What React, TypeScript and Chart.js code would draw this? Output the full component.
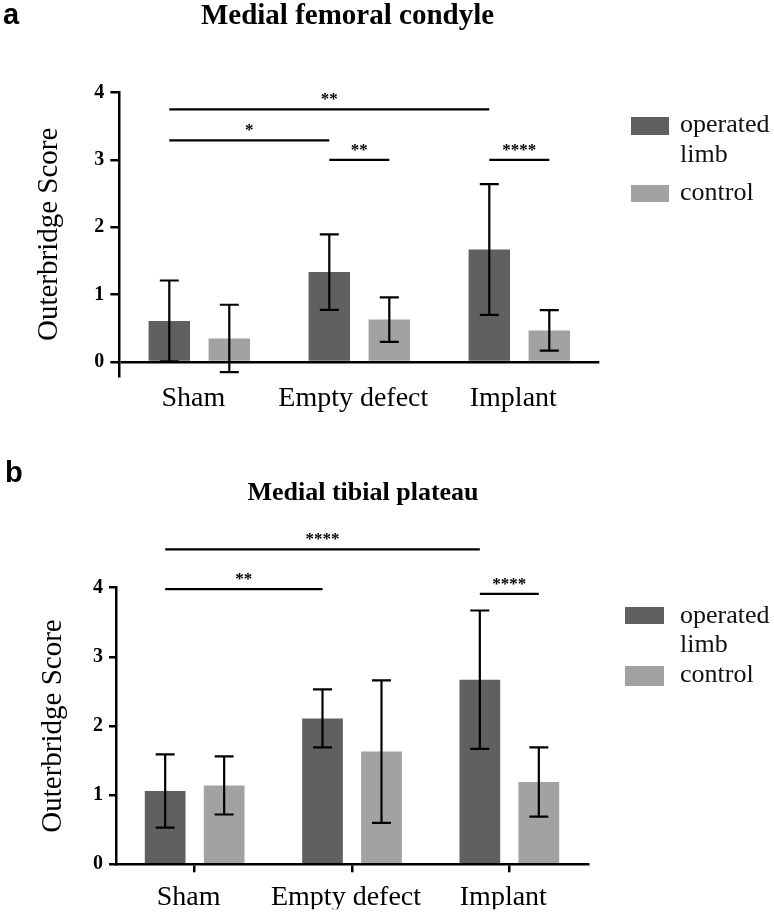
import React, { useEffect, useRef } from "react";
import { Chart, registerables } from "chart.js";
Chart.register(...registerables);

// ---------- data ----------
const categories = ["Sham", "Empty defect", "Implant"];
const seriesNames = ["operated limb", "control"];
const legendLines = [["operated", "limb"], ["control"]];
const yTickValues = [0, 1, 2, 3, 4];
const yAxisTitle = "Outerbridge Score";

const femoralTitle = "Medial femoral condyle";
const femoralOperated = [0.61, 1.335, 1.67];
const femoralControl = [0.35, 0.63, 0.47];
const femoralOperatedSD = [0.6, 0.56, 0.97];
const femoralControlSD = [0.5, 0.33, 0.3];
const femoralSigLabels = ["**", "*", "**", "****"];
const femoralSigLevels = [3.75, 3.29, 3.0, 3.0];
const femoralSigFrom = [[0, 0], [0, 0], [0, 1], [0, 2]];
const femoralSigTo = [[0, 2], [0, 1], [1, 1], [1, 2]];

const tibialTitle = "Medial tibial plateau";
const tibialOperated = [1.06, 2.11, 2.67];
const tibialControl = [1.14, 1.63, 1.19];
const tibialOperatedSD = [0.53, 0.42, 1.0];
const tibialControlSD = [0.42, 1.03, 0.5];
const tibialSigLabels = ["****", "**", "****"];
const tibialSigLevels = [4.555, 3.98, 3.91];
const tibialSigFrom = [[0, 0], [0, 0], [0, 2]];
const tibialSigTo = [[0, 2], [0, 1], [1, 2]];

// ---------- styles ----------
const SERIF = '"Liberation Serif", "Times New Roman", serif';
const SANS = '"Liberation Sans", Arial, sans-serif';
const COLORS = ["#606060", "#a2a2a2"];

type Panel = {
  letter: string;
  title: string;
  means: number[][];
  sds: number[][];
  sigLabels: string[];
  sigLevels: number[];
  sigFrom: number[][];
  sigTo: number[][];
  height: number;
  yMin: number;
  areaLeft: number;
  areaRight: number;
  areaTop: number;
  areaBottom: number;
  xHeight: number;
  xTickLen: number;
  xPad: number;
  yTickLen: number;
  yPad: number;
  yTitleCenter: number;
  titleCx: number;
  titleBase: number;
  titleSize: number;
  letterX: number;
  letterBase: number;
  swatchX: number;
  swatchW: number;
  swatchY: number[];
  swatchH: number[];
  textX: number;
  textBase: number[][];
};

const panelA: Panel = {
  letter: "a",
  title: femoralTitle,
  means: [femoralOperated, femoralControl],
  sds: [femoralOperatedSD, femoralControlSD],
  sigLabels: femoralSigLabels,
  sigLevels: femoralSigLevels,
  sigFrom: femoralSigFrom,
  sigTo: femoralSigTo,
  height: 455,
  yMin: -0.21,
  areaLeft: 119.3,
  areaRight: 599.3,
  areaTop: 92.5,
  areaBottom: 376.2,
  xHeight: 60,
  xTickLen: 0,
  xPad: 6,
  yTickLen: 9,
  yPad: 6,
  yTitleCenter: 49,
  titleCx: 347.5,
  titleBase: 24,
  titleSize: 29,
  letterX: 3,
  letterBase: 24,
  swatchX: 631,
  swatchW: 38,
  swatchY: [117, 185],
  swatchH: [18, 17],
  textX: 680,
  textBase: [[132, 162], [200]],
};

const panelB: Panel = {
  letter: "b",
  title: tibialTitle,
  means: [tibialOperated, tibialControl],
  sds: [tibialOperatedSD, tibialControlSD],
  sigLabels: tibialSigLabels,
  sigLevels: tibialSigLevels,
  sigFrom: tibialSigFrom,
  sigTo: tibialSigTo,
  height: 460,
  yMin: 0,
  areaLeft: 116,
  areaRight: 588,
  areaTop: 132.7,
  areaBottom: 409.3,
  xHeight: 45,
  xTickLen: 8,
  xPad: 9,
  yTickLen: 7,
  yPad: 6,
  yTitleCenter: 53,
  titleCx: 363,
  titleBase: 45,
  titleSize: 26,
  letterX: 5,
  letterBase: 27,
  swatchX: 625,
  swatchW: 39,
  swatchY: [152, 211],
  swatchH: [17, 20],
  textX: 680,
  textBase: [[168, 196.7], [226.7]],
};

const WIDTH = 774;

function makeDecorPlugin(p: Panel) {
  return {
    id: "decor",
    afterDatasetsDraw(chart: any) {
      const ctx = chart.ctx;
      const y = chart.scales.y;
      ctx.save();
      ctx.strokeStyle = "#000";
      ctx.lineWidth = 2.2;
      p.sds.forEach((sdArr, di) => {
        const meta = chart.getDatasetMeta(di);
        meta.data.forEach((bar: any, j: number) => {
          const m = chart.data.datasets[di].data[j] as number;
          const hi = y.getPixelForValue(m + sdArr[j]);
          const lo = y.getPixelForValue(m - sdArr[j]);
          const cap = 9.5;
          ctx.beginPath();
          ctx.moveTo(bar.x, hi);
          ctx.lineTo(bar.x, lo);
          ctx.moveTo(bar.x - cap, hi);
          ctx.lineTo(bar.x + cap, hi);
          ctx.moveTo(bar.x - cap, lo);
          ctx.lineTo(bar.x + cap, lo);
          ctx.stroke();
        });
      });
      ctx.restore();
    },
    afterDraw(chart: any) {
      const ctx = chart.ctx;
      const y = chart.scales.y;
      ctx.save();
      // significance brackets
      ctx.strokeStyle = "#000";
      ctx.fillStyle = "#000";
      ctx.lineWidth = 2.2;
      p.sigLabels.forEach((lab, i) => {
        const a = chart.getDatasetMeta(p.sigFrom[i][0]).data[p.sigFrom[i][1]];
        const b = chart.getDatasetMeta(p.sigTo[i][0]).data[p.sigTo[i][1]];
        const py = y.getPixelForValue(p.sigLevels[i]);
        ctx.beginPath();
        ctx.moveTo(a.x, py);
        ctx.lineTo(b.x, py);
        ctx.stroke();
        ctx.font = `bold 17px ${SERIF}`;
        ctx.textAlign = "center";
        ctx.textBaseline = "alphabetic";
        ctx.fillText(lab, (a.x + b.x) / 2, py - 5);
      });
      // panel title
      ctx.font = `bold ${p.titleSize}px ${SERIF}`;
      ctx.textAlign = "center";
      ctx.fillText(p.title, p.titleCx, p.titleBase);
      // panel letter
      ctx.font = `bold 29px ${SANS}`;
      ctx.textAlign = "left";
      ctx.fillText(p.letter, p.letterX, p.letterBase);
      // legend
      chart.data.datasets.forEach((ds: any, i: number) => {
        ctx.fillStyle = ds.backgroundColor;
        ctx.fillRect(p.swatchX, p.swatchY[i], p.swatchW, p.swatchH[i]);
        ctx.fillStyle = "#111";
        ctx.font = `26px ${SERIF}`;
        ctx.textAlign = "left";
        legendLines[i].forEach((line, k) => {
          ctx.fillText(line, p.textX, p.textBase[i][k]);
        });
      });
      ctx.restore();
    },
  };
}

function BarPanel({ p, top }: { p: Panel; top: number }) {
  const ref = useRef<HTMLCanvasElement | null>(null);
  useEffect(() => {
    if (!ref.current) return;
    const chart = new Chart(ref.current, {
      type: "bar",
      data: {
        labels: categories,
        datasets: seriesNames.map((name, i) => ({
          label: name,
          data: p.means[i],
          backgroundColor: COLORS[i],
          borderWidth: 0,
          categoryPercentage: 0.75,
          barPercentage: 0.69,
        })),
      },
      options: {
        responsive: false,
        animation: false,
        layout: {
          padding: {
            left: 0,
            top: p.areaTop,
            right: WIDTH - p.areaRight,
            bottom: p.height - p.areaBottom - p.xHeight,
          },
        },
        plugins: {
          legend: { display: false },
          title: { display: false },
          tooltip: { enabled: false },
        },
        scales: {
          x: {
            grid: {
              display: p.xTickLen > 0,
              drawOnChartArea: false,
              drawTicks: p.xTickLen > 0,
              tickLength: p.xTickLen,
              offset: false,
              color: "#000",
              lineWidth: 2.5,
            },
            border: { display: p.yMin === 0, color: "#000", width: 2.5 },
            ticks: {
              padding: p.xPad,
              color: "#000",
              labelOffset: -6,
              maxRotation: 0,
              font: { family: SERIF, size: 28 },
            },
            afterFit: (s: any) => {
              s.height = p.xHeight;
            },
          },
          y: {
            min: p.yMin,
            max: 4,
            ticks: {
              stepSize: 1,
              padding: p.yPad,
              color: "#000",
              font: { family: SERIF, size: 20, weight: "bold" },
            },
            afterBuildTicks: (s: any) => {
              s.ticks = yTickValues.map((v) => ({ value: v }));
            },
            grid: {
              drawOnChartArea: true,
              color: (c: any) =>
                c.tick && c.tick.value === 0 && p.yMin < 0 ? "#000" : "rgba(0,0,0,0)",
              tickColor: "#000",
              tickLength: p.yTickLen,
              lineWidth: 2.5,
            },
            border: { display: true, color: "#000", width: 2.5 },
            title: {
              display: true,
              text: yAxisTitle,
              color: "#000",
              font: { family: SERIF, size: 29, weight: "normal" },
              padding: { top: p.yTitleCenter - 29 * 0.6, bottom: 0 },
            },
            afterFit: (s: any) => {
              s.width = p.areaLeft;
            },
          },
        },
      },
      plugins: [makeDecorPlugin(p)],
    } as any);
    return () => chart.destroy();
  }, [p]);
  return (
    <canvas
      ref={ref}
      width={WIDTH}
      height={p.height}
      style={{ position: "absolute", left: 0, top, width: WIDTH, height: p.height, display: "block" }}
    />
  );
}

export default function App() {
  return (
    <div style={{ position: "absolute", left: 0, top: 0, width: WIDTH, height: 915, background: "#fff" }}>
      <BarPanel p={panelA} top={0} />
      <BarPanel p={panelB} top={455} />
    </div>
  );
}
